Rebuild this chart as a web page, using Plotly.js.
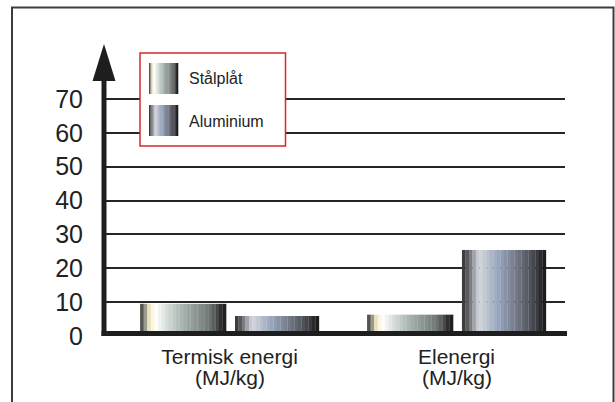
<!DOCTYPE html>
<html>
<head>
<meta charset="utf-8">
<script src="https://cdn.plot.ly/plotly-3.0.1.min.js"></script>
<style>html,body{margin:0;padding:0;background:#fff;}#chart{width:615px;height:402px;}</style>
</head>
<body>
<div id="chart"></div>
<script>
// ---- data ----
const categories = ['Termisk energi', 'Elenergi'];
const categoryUnits = ['(MJ/kg)', '(MJ/kg)'];
const seriesNames = ['Stålplåt', 'Aluminium'];
const staalValues = [9.5, 6.3];
const aluminiumValues = [5.9, 25.4];
const yTickVals = [0, 10, 20, 30, 40, 50, 60, 70];

// ---- style: cylinder-like gradients (left to right) ----
const staalColors = ['#55554f','#9a998e','#e9e2c0','#fbf6dc','#fdfdf9','#f0f3f0','#e3e8e5','#d6ddd9',
  '#cbd3cf','#c0c9c5','#b5bfbb','#abb6b1','#a2ada8','#9aa5a0','#939e99','#8c9692','#858f8b','#7e8783',
  '#767e7a','#6b716e','#5c605e','#474948','#303030','#1f1f1f'];
const aluColors = ['#3e3e3e','#5a5a5c','#7c7d80','#a2a5aa','#c6cad0','#ced2d9','#c3c9d2','#b7bfcb',
  '#abb5c5','#a0adc2','#97a5bd','#8f9cb4','#8893a8','#828b9c','#7b8291','#737987','#6b707c','#626671',
  '#595d66','#50535b','#45474e','#3a3b40','#2a2a2d','#1c1c1e'];

const series = [
  {name: seriesNames[0], values: staalValues, colors: staalColors, offset: -0.394, width: 0.379},
  {name: seriesNames[1], values: aluminiumValues, colors: aluColors, offset: 0.024, width: 0.370}
];

const traces = [];
series.forEach(s => {
  const n = s.colors.length;
  const w = s.width / n;
  s.colors.forEach((c, k) => {
    traces.push({
      type: 'bar', x: categories, y: s.values, name: s.name,
      offset: s.offset + k * w, width: w * 1.06,
      marker: {color: c, line: {width: 0}},
      showlegend: false, hovertemplate: s.name + ': %{y}<extra></extra>'
    });
  });
});

// ---- pixel helpers for decorations ----
const PL = 104, PR = 565, PT = 65, PB = 336;
const px = p => (p - PL) / (PR - PL);
const py = p => (PB - p) / (PB - PT);

const shapes = [];
// outer frame
shapes.push({type: 'rect', xref: 'paper', yref: 'paper', x0: px(12), x1: px(613.5), y0: py(430), y1: py(7.5),
  line: {color: '#3c3c3c', width: 2}, fillcolor: 'rgba(0,0,0,0)', layer: 'below'});
// y axis line
shapes.push({type: 'line', xref: 'paper', yref: 'paper', x0: px(104), x1: px(104), y0: py(336), y1: py(78),
  line: {color: '#1e1e1e', width: 5}});
// x axis baseline
shapes.push({type: 'line', xref: 'paper', yref: 'paper', x0: px(101.5), x1: px(567), y0: py(333.5), y1: py(333.5),
  line: {color: '#1e1e1e', width: 5}});
// arrow head
shapes.push({type: 'path', xref: 'paper', yref: 'paper',
  path: 'M' + px(104) + ',' + py(44) + ' L' + px(115.5) + ',' + py(81) + ' L' + px(92.5) + ',' + py(81) + ' Z',
  fillcolor: '#1e1e1e', line: {width: 0}});
// legend box
shapes.push({type: 'rect', xref: 'paper', yref: 'paper', x0: px(140), x1: px(285.5), y0: py(146), y1: py(53),
  line: {color: '#d8262f', width: 1.5}, fillcolor: '#ffffff'});
// legend swatches
const swatchTops = [63, 105];
series.forEach((s, i) => {
  const n = s.colors.length, x0 = 149, x1 = 178, sw = (x1 - x0) / n;
  s.colors.forEach((c, k) => {
    shapes.push({type: 'rect', xref: 'paper', yref: 'paper',
      x0: px(x0 + k * sw), x1: px(x0 + (k + 1) * sw + 0.3), y0: py(swatchTops[i] + 31), y1: py(swatchTops[i]),
      fillcolor: c, line: {width: 0}});
  });
});

const FONT = 'Liberation Sans, Arial, Helvetica, sans-serif';
const annotations = series.map((s, i) => ({
  xref: 'paper', yref: 'paper', x: px(187), y: py(swatchTops[i] + 16), xanchor: 'left', yanchor: 'middle',
  text: s.name, showarrow: false, font: {family: FONT, size: 16, color: '#222'}
}));
// unit line under each category label
categories.forEach((c, i) => {
  annotations.push({xref: 'x', yref: 'paper', x: c, y: py(377), xanchor: 'center', yanchor: 'middle',
    text: categoryUnits[i], showarrow: false, font: {family: FONT, size: 21, color: '#222'}});
});

const layout = {
  width: 615, height: 402,
  margin: {l: PL, r: 615 - PR, t: PT, b: 402 - PB, pad: 0},
  paper_bgcolor: '#ffffff', plot_bgcolor: '#ffffff',
  barmode: 'overlay', showlegend: false,
  font: {family: FONT, color: '#222'},
  xaxis: {type: 'category', range: [-0.553, 1.478], tickmode: 'array', tickvals: categories, ticktext: categories,
    ticks: '', showgrid: false, showline: false, zeroline: false, ticklabelstandoff: 6,
    tickfont: {family: FONT, size: 21, color: '#222'}, fixedrange: true},
  yaxis: {range: [0, 80], tickmode: 'array', tickvals: yTickVals, ticks: '', showline: false, zeroline: false,
    showgrid: true, gridcolor: '#262626', gridwidth: 2, ticklabelstandoff: 20,
    tickfont: {family: FONT, size: 25, color: '#222'}, fixedrange: true},
  shapes: shapes, annotations: annotations
};

Plotly.newPlot('chart', traces, layout, {displayModeBar: false, staticPlot: true});
</script>
</body>
</html>
